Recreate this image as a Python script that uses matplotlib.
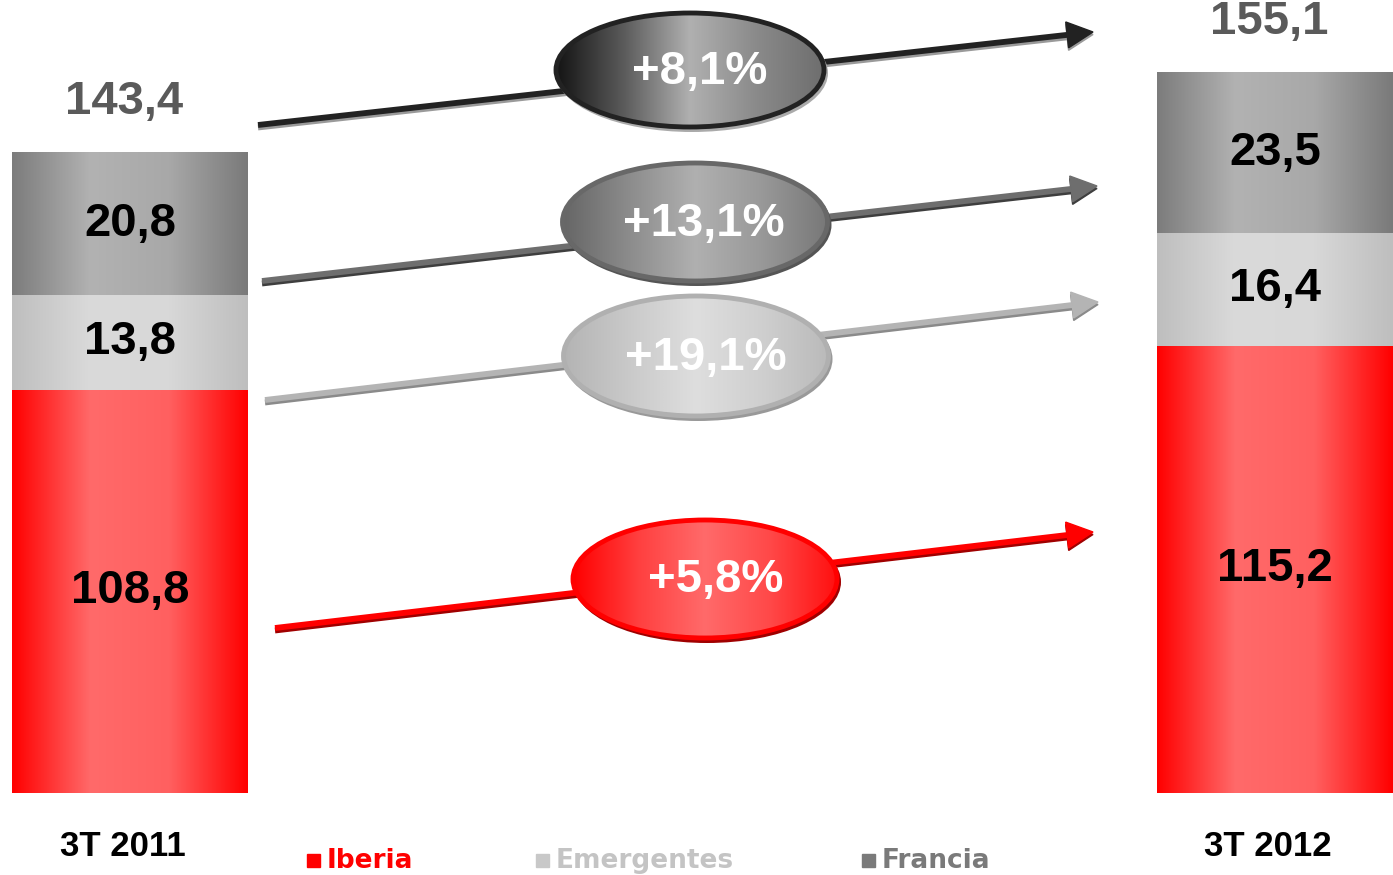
import numpy as np
import matplotlib
matplotlib.use("Agg")
import matplotlib.pyplot as plt
from matplotlib.colors import LinearSegmentedColormap
from matplotlib.patches import Ellipse, Polygon, Rectangle

plt.rcParams['font.family'] = ['Liberation Sans', 'DejaVu Sans']

# data
periods = ["3T 2011", "3T 2012"]
iberia = [108.8, 115.2]
emergentes = [13.8, 16.4]
francia = [20.8, 23.5]
totals = [143.4, 155.1]
growth = ["+8,1%", "+13,1%", "+19,1%", "+5,8%"]
series_names = ["Iberia", "Emergentes", "Francia"]

AXIS_BREAK = 50  # the Iberia bars are cut at 50


def fmt(v):
    return f"{v:.1f}".replace(".", ",")


def grad_fill(ax, patch, colors, extent, z):
    cmap = LinearSegmentedColormap.from_list("g", colors)
    im = ax.imshow(np.linspace(0, 1, 256)[None, :], cmap=cmap, extent=extent,
                   aspect="auto", zorder=z, interpolation="bilinear")
    im.set_clip_path(patch)


fig = plt.figure(figsize=(13.93, 8.75), dpi=100)

# main bar axes: bottom of bars at 793 px
ax = fig.add_axes([0, 82 / 875, 1, 793 / 875])
ax.set_facecolor("none")
x = np.array([0, 1])
px_per_x = 1145
width = 236 / px_per_x

bar_colors = {
    "Iberia": ["#ff0000", "#ff6a6a", "#ff6060", "#ff0000"],
    "Emergentes": ["#bebebe", "#dadada", "#d8d8d8", "#bebebe"],
    "Francia": ["#7c7c7c", "#b2b2b2", "#a8a8a8", "#7a7a7a"],
}

bottom = np.zeros(2)
segments = []
for name, vals in zip(series_names, [iberia, emergentes, francia]):
    vals = np.array(vals)
    bars = ax.bar(x, vals, width, bottom=bottom, color="none", edgecolor="none", zorder=2)
    for xi, b, v, p in zip(x, bottom, vals, bars):
        lo = max(b, AXIS_BREAK)
        grad_fill(ax, p, bar_colors[name],
                  [xi - width / 2, xi + width / 2, lo, b + v], 1.5)
        segments.append((xi, (lo + b + v) / 2, v))
    bottom = bottom + vals

ax.set_xlim(-130 / px_per_x, 1 + 118 / px_per_x)
px_per_y = 6.86
ax.set_ylim(AXIS_BREAK, AXIS_BREAK + 793 / px_per_y)
ax.axis("off")

for xi, yc, v in segments:
    ax.text(xi, yc, fmt(v), ha="center", va="center", fontsize=34,
            fontweight="bold", color="black", zorder=5)

for xi, t in zip(x, totals):
    ax.text(xi - 0.005, t + 50 / px_per_y, fmt(t), ha="center", va="center",
            fontsize=34, fontweight="bold", color="#5a5a5a", zorder=5)

for xi, lab in zip(x, periods):
    ax.text(xi - 0.006, AXIS_BREAK - 54 / px_per_y, lab, ha="center", va="center",
            fontsize=25, fontweight="bold", color="black")

# overlay in pixel coordinates for arrows, ellipses and legend
ov = fig.add_axes([0, 0, 1, 1])
ov.set_xlim(0, 1393)
ov.set_ylim(875, 0)
ov.axis("off")
ov.patch.set_alpha(0)

arrows = [
    ((258, 125), (1093, 32), "#222222", "#9a9a9a"),
    ((262, 281), (1097, 186), "#6e6e6e", "#3e3e3e"),
    ((265, 400), (1098, 302), "#b4b4b4", "#8a8a8a"),
    ((275, 628), (1093, 532), "#ff0000", "#a00000"),
]

for (x0, y0), (x1, y1), c, sc in arrows:
    d = np.array([x1 - x0, y1 - y0], float)
    u = d / np.hypot(*d)
    n = np.array([-u[1], u[0]])
    hl, hw = 26, 13
    base = np.array([x1, y1]) - u * hl
    for off, col in [(2.5, sc), (0, c)]:
        ov.plot([x0, base[0]], [y0 + off, base[1] + off],
                color=col, lw=4.2, solid_capstyle="butt", zorder=2)
        head = [np.array([x1, y1 + off]), base + n * hw + [0, off], base - n * hw + [0, off]]
        ov.add_patch(Polygon(head, closed=True, color=col, zorder=2))

ellipses = [
    ((690, 70), 268, 114, ["#141414", "#5a5a5a", "#b0b0b0", "#8a8a8a", "#6e6e6e"], "#222222", "#aaaaaa", (700, 72)),
    ((695, 222), 265, 118, ["#666666", "#8c8c8c", "#b0b0b0", "#999999", "#787878"], "#686868", "#555555", (704, 224)),
    ((696, 356), 265, 120, ["#b4b4b4", "#cacaca", "#dedede", "#cfcfcf", "#bababa"], "#b0b0b0", "#999999", (706, 358)),
    ((705, 579), 264, 118, ["#ff0000", "#ff4040", "#ff6a6a", "#ff4848", "#ff1010"], "#ff0000", "#a00000", (716, 580)),
]

for g, ((cx, cy), w, h, cols, ec, shadow, tpos) in zip(growth, ellipses):
    ov.add_patch(Ellipse((cx + 2, cy + 3), w + 4, h + 4, facecolor=shadow,
                         edgecolor="none", zorder=3))
    clip = Ellipse((cx, cy), w, h, facecolor="none", edgecolor="none")
    ov.add_patch(clip)
    grad_fill(ov, clip, cols, [cx - w / 2, cx + w / 2, cy + h / 2, cy - h / 2], 4)
    ov.add_patch(Ellipse((cx, cy), w, h, facecolor="none", edgecolor=ec, lw=3.5, zorder=5))
    ov.text(tpos[0], tpos[1], g, ha="center", va="center", fontsize=34,
            fontweight="bold", color="white", zorder=6)

ov.set_xlim(0, 1393)
ov.set_ylim(875, 0)

# legend
legend_items = [
    ("Iberia", 307, "#ff0000", "#ff0000"),
    ("Emergentes", 536, "#c8c8c8", "#c4c4c4"),
    ("Francia", 862, "#7a7a7a", "#7a7a7a"),
]
for name, lx, sq, tc in legend_items:
    ov.add_patch(Rectangle((lx, 854), 13, 13, color=sq, zorder=5))
    ov.text(lx + 20, 861, name, ha="left", va="center", fontsize=19,
            fontweight="bold", color=tc, family="DejaVu Sans")

fig.savefig("out.png", dpi=100)
